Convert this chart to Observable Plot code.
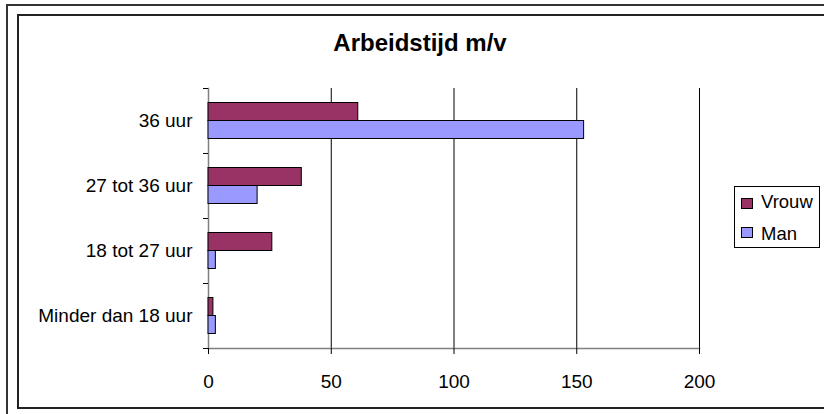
<!DOCTYPE html>
<html>
<head>
<meta charset="utf-8">
<script src="https://cdn.jsdelivr.net/npm/d3@7"></script>
<script src="https://cdn.jsdelivr.net/npm/@observablehq/plot@0.6"></script>
<style>
  html, body { margin: 0; padding: 0; background: #fff; overflow: hidden; }
  #wrap { position: relative; width: 824px; height: 414px; overflow: hidden; font-family: "Liberation Sans", Arial, sans-serif; }
  .frame { position: absolute; box-sizing: border-box; }
  #outer { left: 6px; top: 4px; width: 900px; height: 500px; border: 2px solid #333; }
  #inner { left: 17px; top: 14px; width: 900px; height: 395px; border: 2px solid #222; }
  #title { position: absolute; left: 220px; width: 400px; top: 29px; text-align: center; font-weight: bold; font-size: 24px; line-height: 1.15; color: #000; }
  #legend { position: absolute; left: 734px; top: 186px; width: 86px; height: 62px; box-sizing: border-box; border: 1px solid #000; background: #fff; }
  .sw { position: absolute; left: 6px; width: 12px; height: 11px; box-sizing: border-box; border: 1px solid #000; }
  .lt { position: absolute; left: 26px; font-size: 18.5px; line-height: 1.15; color: #000; }
  #chart { position: absolute; left: 0; top: 0; }
</style>
</head>
<body>
<div id="wrap">
  <div id="outer" class="frame"></div>
  <div id="inner" class="frame"></div>
  <div id="chart"></div>
  <div id="title"></div>
  <div id="legend"></div>
</div>
<script>
const title = "Arbeidstijd m/v";
const categories = ["36 uur", "27 tot 36 uur", "18 tot 27 uur", "Minder dan 18 uur"];
const seriesNames = ["Vrouw", "Man"];
const vrouwValues = [61, 38, 26, 2];
const manValues = [153, 20, 3, 3];
const seriesColors = ["#993366", "#9999FF"];
const xTicks = [0, 50, 100, 150, 200];

const vrouwData = categories.map((c, i) => ({cat: c, value: vrouwValues[i], series: seriesNames[0]}));
const manData = categories.map((c, i) => ({cat: c, value: manValues[i], series: seriesNames[1]}));

const font = "'Liberation Sans', Arial, sans-serif";

const chart = Plot.plot({
  width: 824,
  height: 414,
  marginLeft: 208,
  marginRight: 125,
  marginTop: 88,
  marginBottom: 66,
  style: {fontFamily: font, fontSize: "19px", background: "transparent", color: "#000", overflow: "visible"},
  x: {domain: [0, 200]},
  y: {domain: categories, padding: 0},
  marks: [
    Plot.gridX({ticks: xTicks.slice(1), stroke: "#000", strokeOpacity: 1, strokeWidth: 1}),
    Plot.frame({anchor: "left", stroke: "#808080", strokeWidth: 1.5}),
    Plot.frame({anchor: "bottom", stroke: "#808080", strokeWidth: 1.5}),
    Plot.barX(vrouwData, {x: "value", y: "cat", fill: seriesColors[0], stroke: "#000", strokeWidth: 1, insetTop: 14.5, insetBottom: 32.5}),
    Plot.barX(manData, {x: "value", y: "cat", fill: seriesColors[1], stroke: "#000", strokeWidth: 1, insetTop: 32.5, insetBottom: 14.5}),
    Plot.axisY({tickSize: 0, tickPadding: 16, fontSize: 19, label: null}),
    Plot.axisY({tickSize: 5, tickFormat: () => "", dy: -32.5, stroke: "#000", label: null}),
    Plot.axisY({ticks: categories.slice(-1), tickSize: 5, tickFormat: () => "", dy: 32.5, stroke: "#000", label: null}),
    Plot.axisX({ticks: xTicks, tickSize: 6, tickPadding: 20, fontSize: 19, label: null, stroke: "#000"})
  ]
});
document.getElementById("chart").appendChild(chart);

document.getElementById("title").textContent = title;

const legend = document.getElementById("legend");
seriesNames.forEach((name, i) => {
  const sw = document.createElement("div");
  sw.className = "sw";
  sw.style.top = (11 + i * 29) + "px";
  sw.style.background = seriesColors[i];
  legend.appendChild(sw);
  const t = document.createElement("div");
  t.className = "lt";
  t.style.top = (4 + i * 32) + "px";
  t.textContent = name;
  legend.appendChild(t);
});
</script>
</body>
</html>
